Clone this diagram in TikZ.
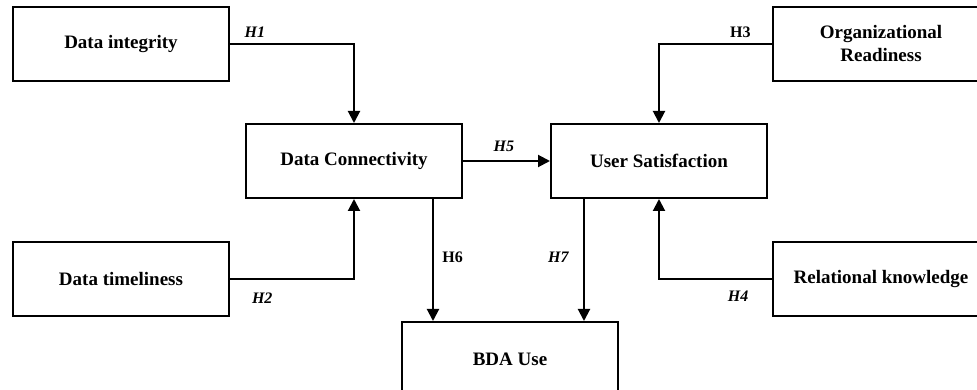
\documentclass[tikz,border=0pt]{standalone}
\usepackage{fontspec}
\setmainfont{Liberation Serif}
\usetikzlibrary{positioning,arrows.meta}

\tikzset{
  var/.style={draw, line width=2pt, minimum width=216pt, minimum height=74pt,
    inner sep=0pt, align=center, font=\fontsize{19}{23}\selectfont\bfseries},
  hyp/.style={font=\fontsize{16}{19}\selectfont\bfseries\itshape},
  hypup/.style={font=\fontsize{16}{19}\selectfont\bfseries},
  link/.style={line width=2pt, -{Triangle[width=12pt,length=12pt]}}
}

\begin{document}
\begin{tikzpicture}

  \useasboundingbox (-354pt,-229pt) rectangle (623pt,161pt);

  % Define nodes
  \node[var]                                        (d_con) {Data Connectivity};
  \node[var, above=41pt of d_con, xshift=-233pt]     (d_int) {Data integrity};
  \node[var, below=42pt of d_con, xshift=-233pt]     (d_tim) {Data timeliness};
  \node[var, right=87pt of d_con]                   (u_sat) {User Satisfaction};
  \node[var, above=41pt of u_sat, xshift=222pt]      (o_rd)  {Organizational\\Readiness};
  \node[var, below=42pt of u_sat, xshift=222pt]      (r_kn)  {Relational knowledge};
  \node[var, below=122pt of d_con, xshift=156pt]     (bda)   {BDA Use};

  % Connect the nodes
  \draw[link] (d_int) -| node[hyp, pos=0.1, above=2pt] {H1} (d_con);
  \draw[link] (d_tim) -| node[hyp, pos=0.13, below=10pt] {H2} (d_con);
  \draw[link] (o_rd)  -| node[hypup, pos=0.14, above=2pt] {H3} (u_sat);
  \draw[link] (r_kn)  -| node[hyp, pos=0.15, below=8pt] {H4} (u_sat);
  \draw[link] (d_con) -- node[hyp, pos=0.47, above=5pt] {H5} (u_sat);
  \draw[link] ([xshift=79pt]d_con.south) -- node[hypup, pos=0.48, right=5pt] {H6}
    ([xshift=79pt]d_con.south |- bda.north);
  \draw[link] ([xshift=-75pt]u_sat.south) -- node[hyp, pos=0.48, left=11pt] {H7}
    ([xshift=-75pt]u_sat.south |- bda.north);

\end{tikzpicture}
\end{document}
